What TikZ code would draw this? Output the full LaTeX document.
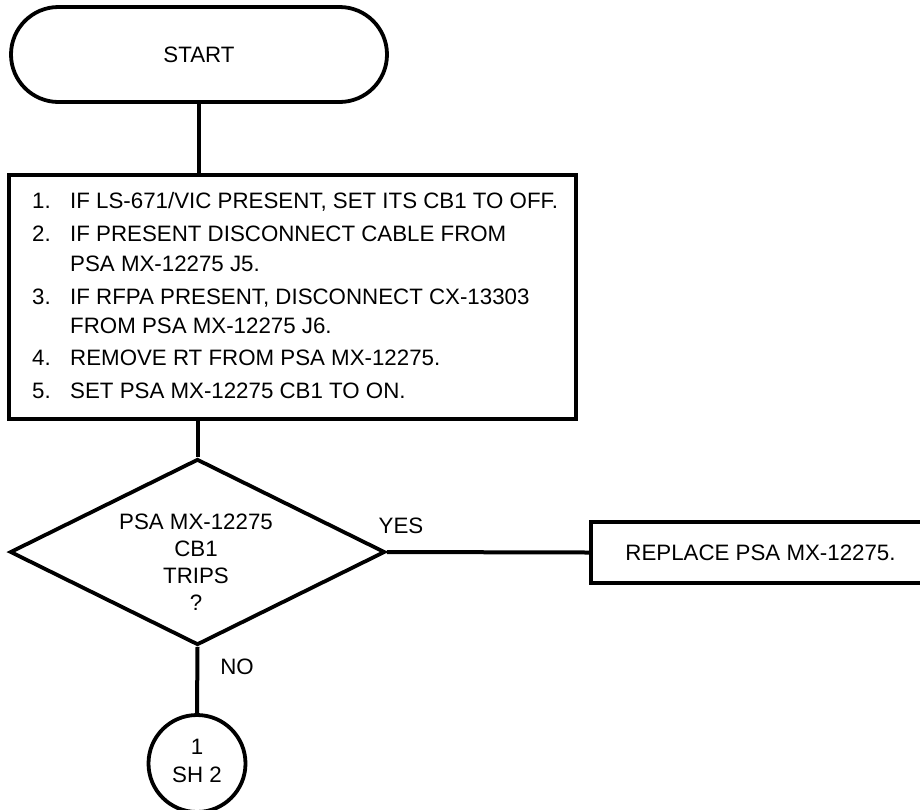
\documentclass[tikz,border=0pt]{standalone}
\usepackage{fontspec}
\setmainfont{Liberation Sans}
\usetikzlibrary{shapes.geometric}
\begin{document}
\begin{tikzpicture}[x=1pt,y=-1pt,
  every node/.style={font=\fontsize{22.3}{27}\selectfont, inner sep=0pt},
  ln/.style={line width=4pt},
  boxst/.style={draw, line width=3.8pt, rectangle},
  txt/.style={anchor=base west},
]
\useasboundingbox (0,0) rectangle (920,809);
% terminal
\node[boxst, rounded corners=47.5pt, minimum width=376pt, minimum height=95pt] (start) at (199,54.5) {START};
% steps box
\node[boxst, minimum width=567pt, minimum height=244pt] (steps) at (292.5,297) {};
\node[txt] (n1) at (32,208.5) {1.};
\node[txt] (t1) at (70,208.5) {IF LS-671/VIC PRESENT, SET ITS CB1 TO OFF.};
\node[txt] (n2) at (32,241) {2.};
\node[txt] (t2) at (70,241) {IF PRESENT DISCONNECT CABLE FROM};
\node[txt] (t2b) at (70,271) {PSA MX-12275 J5.};
\node[txt] (n3) at (32,304) {3.};
\node[txt] (t3) at (70,304) {IF RFPA PRESENT, DISCONNECT CX-13303};
\node[txt] (t3b) at (70,333) {FROM PSA MX-12275 J6.};
\node[txt] (n4) at (32,365) {4.};
\node[txt] (t4) at (70,365) {REMOVE RT FROM PSA MX-12275.};
\node[txt] (n5) at (32,398) {5.};
\node[txt] (t5) at (70,398) {SET PSA MX-12275 CB1 TO ON.};
% decision
\node[draw, diamond, line width=3.8pt, minimum width=375pt, minimum height=186pt, inner sep=0pt] (dec) at (197.5,552) {};
\node[align=center] (dtxt) at (196,562) {PSA MX-12275\\CB1\\TRIPS\\?};
% replace
\node[boxst, minimum width=339pt, minimum height=61pt] (repl) at (760.5,552.5) {REPLACE PSA MX-12275.};
% off-page connector
\node[draw, circle, line width=3.8pt, minimum size=97pt, inner sep=0pt] (conn) at (197,763.5) {};
\node[align=center, font=\fontsize{22.3}{28}\selectfont] (ctxt) at (197,761) {1\\SH 2};
% labels
\node (yes) at (401,526) {YES};
\node (no) at (237,667) {NO};
% connectors
\draw[ln] (start.south) -- (start.south |- steps.north);
\draw[ln] (dec.north |- steps.south) -- (dec.north);
\draw[ln] (dec.east) -- (repl.west);
\draw[ln] (dec.south) -- (conn.north);
\end{tikzpicture}
\end{document}
